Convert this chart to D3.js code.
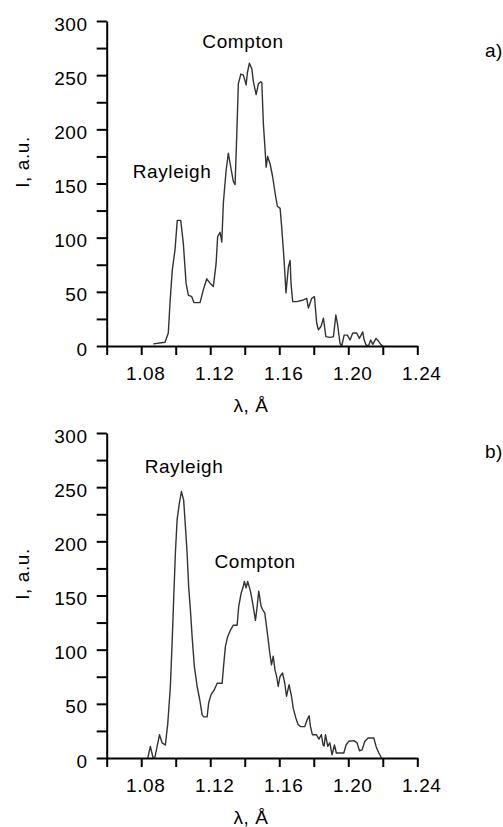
<!DOCTYPE html>
<html lang="en">
<head>
<meta charset="UTF-8">
<title>Rayleigh and Compton scattering</title>
<script src="https://d3js.org/d3.v7.min.js"></script>
<style>
  body { margin: 0; background: #fff; }
  svg text { font-family: "Liberation Sans", Arial, sans-serif; font-size: 19px; fill: #000; letter-spacing: 0.6px; }
  .axis path, .axis line { stroke: #000; stroke-width: 2; }
  .curve { fill: none; stroke: #333; stroke-width: 1.4; stroke-linejoin: round; }
</style>
</head>
<body>
<script>
// panel a)
const lambdaA = [1.0870, 1.0938, 1.0957, 1.0967, 1.0980, 1.0996, 1.1009, 1.1029, 1.1044, 1.1060,
  1.1073, 1.1093, 1.1106, 1.1141, 1.1160, 1.1180, 1.1199, 1.1218, 1.1234, 1.1243,
  1.1257, 1.1267, 1.1276, 1.1292, 1.1305, 1.1319, 1.1334, 1.1344, 1.1354, 1.1363,
  1.1377, 1.1392, 1.1408, 1.1415, 1.1427, 1.1441, 1.1450, 1.1466, 1.1479, 1.1493,
  1.1499, 1.1508, 1.1518, 1.1524, 1.1533, 1.1547, 1.1562, 1.1576, 1.1589, 1.1605,
  1.1614, 1.1628, 1.1639, 1.1653, 1.1663, 1.1668, 1.1678, 1.1701, 1.1740, 1.1759,
  1.1769, 1.1788, 1.1804, 1.1817, 1.1827, 1.1842, 1.1856, 1.1870, 1.1894, 1.1914,
  1.1928, 1.1937, 1.1952, 1.1962, 1.1976, 1.1995, 1.2010, 1.2026, 1.2049, 1.2064,
  1.2084, 1.2092, 1.2103, 1.2117, 1.2130, 1.2142, 1.2161, 1.2175, 1.2188, 1.2200];
const intensityA = [2, 3.5, 12, 40, 70, 89, 116, 116, 95, 58,
  47, 45.5, 40, 40, 52, 62, 58, 55, 76, 101,
  105, 96, 132, 162, 178, 165, 152, 149, 196, 242,
  251, 250, 241, 252, 261, 256, 244, 232, 242, 244,
  243, 205, 181, 165, 175, 168, 156, 141, 129, 127,
  110, 79, 49, 73, 79, 58, 41, 41, 42.5, 44,
  35, 44, 45.5, 21, 15, 18, 25.6, 8.6, 8, 8.6,
  28.6, 21, 2.5, 0, 10, 10, 5.5, 12, 12, 7,
  13, 5.5, 1, 0, 5.5, 1.5, 7, 4.6, 1.5, 0];

// panel b)
const lambdaB = [1.0838, 1.0853, 1.0869, 1.0880, 1.0906, 1.0921, 1.0940, 1.0954, 1.0969, 1.0979,
  1.0988, 1.0998, 1.1008, 1.1021, 1.1033, 1.1046, 1.1056, 1.1066, 1.1075, 1.1085,
  1.1095, 1.1108, 1.1124, 1.1139, 1.1153, 1.1162, 1.1182, 1.1191, 1.1205, 1.1224,
  1.1240, 1.1269, 1.1278, 1.1288, 1.1301, 1.1317, 1.1333, 1.1356, 1.1365, 1.1379,
  1.1391, 1.1398, 1.1408, 1.1417, 1.1433, 1.1446, 1.1462, 1.1472, 1.1481, 1.1495,
  1.1503, 1.1516, 1.1526, 1.1536, 1.1545, 1.1555, 1.1565, 1.1575, 1.1585, 1.1594,
  1.1604, 1.1619, 1.1632, 1.1642, 1.1657, 1.1671, 1.1681, 1.1696, 1.1709, 1.1723,
  1.1748, 1.1761, 1.1773, 1.1781, 1.1792, 1.1815, 1.1830, 1.1844, 1.1854, 1.1860,
  1.1868, 1.1881, 1.1893, 1.1906, 1.1920, 1.1931, 1.1974, 1.1987, 1.2003, 1.2032,
  1.2051, 1.2065, 1.2080, 1.2096, 1.2115, 1.2148, 1.2161, 1.2177, 1.2193];
const intensityB = [0, 10.7, 0, 1, 21.5, 14, 12, 32, 66, 106,
  146, 189, 220, 235, 246, 238, 214, 189, 158, 137,
  112, 84.5, 66, 54, 40, 38, 38, 51, 58.5, 63,
  69, 69, 86, 103, 112, 118, 122.5, 122.5, 140, 152,
  158, 163, 157, 163, 154, 143, 127, 140, 154, 140,
  137, 134, 121.5, 109, 97, 86, 94, 81.5, 75, 66,
  75, 78.5, 69, 57, 67.7, 57, 46, 37, 31, 29,
  29, 35, 39, 29, 21.5, 21.5, 17.5, 21.5, 12, 11,
  21.5, 10.7, 14, 3, 12, 4.6, 4.6, 12, 15.4, 16,
  14, 6.7, 7.5, 15.4, 18.5, 18.5, 10.7, 4.6, 0];

const xTicks = [1.06, 1.08, 1.10, 1.12, 1.14, 1.16, 1.18, 1.20, 1.22, 1.24];
const xTickLabels = ['', '1.08', '', '1.12', '', '1.16', '', '1.20', '', '1.24'];
const yTicks = [0, 25, 50, 75, 100, 125, 150, 175, 200, 225, 250, 275, 300];
const yTickLabels = ['0', '', '50', '', '100', '', '150', '', '200', '', '250', '', '300'];

const panels = [
  { x: lambdaA, y: intensityA, tag: 'a)', notes: [
      { text: 'Compton', lam: 1.1390, val: 275 },
      { text: 'Rayleigh', lam: 1.0979, val: 155 }] },
  { x: lambdaB, y: intensityB, tag: 'b)', notes: [
      { text: 'Rayleigh', lam: 1.1048, val: 263 },
      { text: 'Compton', lam: 1.1460, val: 175 }] }
];

const W = 503, H = 827;
const svg = d3.select('body').append('svg').attr('width', W).attr('height', H);

const xScale = d3.scaleLinear().domain([1.06, 1.24]).range([106.7, 417.3]);

panels.forEach((p, k) => {
  const top = k * 412;
  const yScale = d3.scaleLinear().domain([0, 300]).range([346, 21]);
  const g = svg.append('g').attr('transform', 'translate(0,' + top + ')');

  // curve
  const line = d3.line().x(i => xScale(p.x[i])).y(i => yScale(p.y[i]));
  g.append('path').attr('class', 'curve').attr('d', line(d3.range(p.x.length)));

  // x axis
  const xAxis = d3.axisBottom(xScale)
    .tickValues(xTicks)
    .tickFormat((d, i) => xTickLabels[i])
    .tickSize(9).tickSizeOuter(0).tickPadding(12);
  g.append('g').attr('class', 'axis')
    .attr('transform', 'translate(0,' + yScale(0) + ')')
    .call(xAxis)
    .call(a => a.selectAll('text').attr('dx', 4).style('font-size', '19px'));

  // y axis
  const yAxis = d3.axisLeft(yScale)
    .tickValues(yTicks)
    .tickFormat((d, i) => yTickLabels[i])
    .tickSize(10).tickSizeOuter(0).tickPadding(9);
  g.append('g').attr('class', 'axis')
    .attr('transform', 'translate(' + xScale(1.06) + ',0)')
    .call(yAxis)
    .call(a => a.selectAll('text').attr('dy', '0.48em').style('font-size', '19px'));

  g.selectAll('.axis').attr('font-family', null).attr('font-size', null);

  // axis titles
  g.append('text').attr('x', 251).attr('y', 412)
    .attr('text-anchor', 'middle').text('λ, Å');
  g.append('text')
    .attr('transform', 'translate(29,162) rotate(-90)')
    .attr('text-anchor', 'middle').text('I, a.u.');

  // peak notes
  p.notes.forEach(n => {
    g.append('text').attr('x', xScale(n.lam)).attr('y', yScale(n.val))
      .attr('text-anchor', 'middle').text(n.text);
  });

  g.append('text').attr('x', 503).attr('y', k === 0 ? 57 : 46)
    .attr('text-anchor', 'end').text(p.tag);
});
</script>
</body>
</html>
